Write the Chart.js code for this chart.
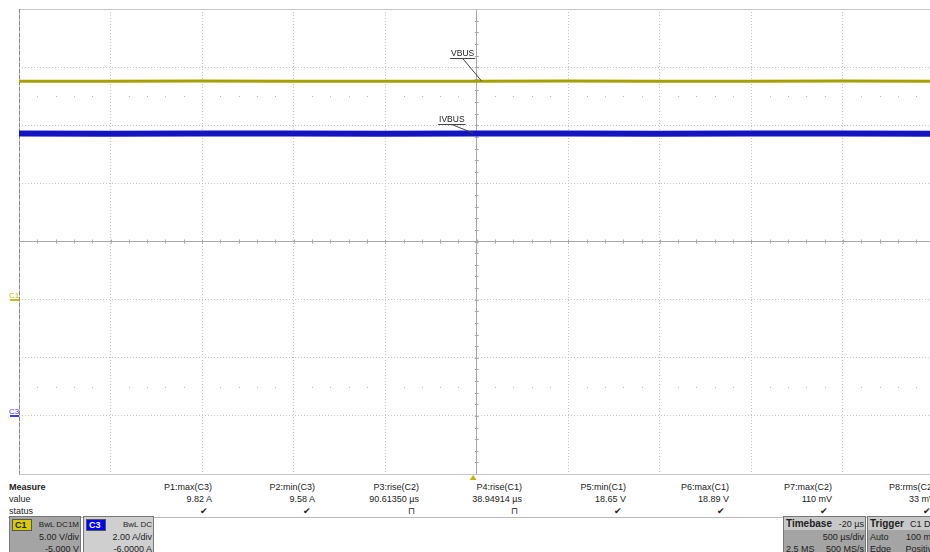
<!DOCTYPE html>
<html>
<head>
<meta charset="utf-8">
<script src="https://cdn.jsdelivr.net/npm/chart.js@4.4.1/dist/chart.umd.min.js"></script>
<style>
  html, body { margin: 0; padding: 0; background: #fff; width: 930px; height: 552px; overflow: hidden; }
  body { position: relative; font-family: "Liberation Sans", Arial, sans-serif; font-size: 9px; color: #222; }
  #scope { position: absolute; left: 0; top: 0; }
  .t { position: absolute; white-space: nowrap; line-height: 12px; }
  .r { text-align: right; }
  .box { position: absolute; border: 1px solid #777; box-sizing: border-box; overflow: hidden; }
  .tag { position: absolute; top: 2px; left: 2px; width: 16px; height: 10px; font-weight: bold; font-size: 9px; line-height: 10px; padding-left: 2px; border: 1px solid #555; }
</style>
</head>
<body>
<canvas id="scope" width="940" height="480"></canvas>
<div id="panel"></div>
<script>
// acquisition: C1 = VBUS (5 V/div, offset -5 V), C3 = IVBUS (2 A/div, offset -6 A)
// time base 500 us/div, delay -20 us
var timeUs = [-2480, -2000, -1500, -1000, -500, 0, 500, 1000, 1500, 2000, 2520];
var vbus   = [18.79, 18.78, 18.80, 18.79, 18.78, 18.79, 18.80, 18.78, 18.79, 18.80, 18.79];
var ivbus  = [9.72, 9.71, 9.72, 9.72, 9.71, 9.72, 9.72, 9.71, 9.72, 9.72, 9.71];

var xTicks = [-2480, -1980, -1480, -980, -480, 20, 520, 1020, 1520, 2020, 2520];

var measNames  = ['P1:max(C3)', 'P2:min(C3)', 'P3:rise(C2)', 'P4:rise(C1)', 'P5:min(C1)', 'P6:max(C1)', 'P7:max(C2)', 'P8:rms(C2)'];
var measValues = ['9.82 A', '9.58 A', '90.61350 \u00b5s', '38.94914 \u00b5s', '18.65 V', '18.89 V', '110 mV', '33 mV'];
var measStatus = ['\u2714', '\u2714', '\u2293', '\u2293', '\u2714', '\u2714', '\u2714', '\u2714'];

function pts(vals) {
  return vals.map(function (v, i) { return { x: timeUs[i], y: v }; });
}

// dotted grid, solid centre cross and frame
var gridColor = function (c) {
  var n = c.scale.ticks.length;
  if (c.index === (n - 1) / 2) return '#a8a8a8';
  return '#c4c4c4';
};
var gridDash = function (c) {
  var n = c.scale.ticks.length;
  if (c.index === 0 || c.index === n - 1 || c.index === (n - 1) / 2) return [];
  return [1, 2];
};

var scopeExtras = {
  id: 'scopeExtras',
  beforeDatasetsDraw: function (chart) {
    var ctx = chart.ctx, x = chart.scales.x, y = chart.scales.y, a = chart.chartArea;
    var cx = x.getPixelForValue(20), cy = y.getPixelForValue(5);
    var divX = (a.right - a.left) / 10, divY = (a.bottom - a.top) / 8;
    ctx.save();
    ctx.strokeStyle = '#a8a8a8';
    ctx.lineWidth = 1;
    // minor ticks on centre cross
    for (var i = 1; i < 50; i++) {
      var px = Math.round(a.left + i * divX / 5) + 0.5;
      ctx.beginPath(); ctx.moveTo(px, cy - 2); ctx.lineTo(px, cy + 2); ctx.stroke();
    }
    for (var j = 1; j < 40; j++) {
      var py = Math.round(a.top + j * divY / 5) + 0.5;
      ctx.beginPath(); ctx.moveTo(cx - 2, py); ctx.lineTo(cx + 2, py); ctx.stroke();
    }
    // dotted rows
    ctx.fillStyle = '#b8b8b8';
    [17.5, -7.5].forEach(function (v) {
      var ry = Math.round(y.getPixelForValue(v));
      for (var k = 1; k < 50; k++) {
        if (k % 5 === 0) continue;
        ctx.fillRect(Math.round(a.left + k * divX / 5), ry, 1, 1);
      }
    });
    // left frame edge
    ctx.strokeStyle = '#888';
    ctx.setLineDash([4, 2]);
    ctx.beginPath(); ctx.moveTo(a.left + 0.5, a.top); ctx.lineTo(a.left + 0.5, a.bottom); ctx.stroke();
    ctx.restore();
  },
  afterDraw: function (chart) {
    var ctx = chart.ctx, x = chart.scales.x, y = chart.scales.y, y3 = chart.scales.y3, a = chart.chartArea;
    ctx.save();
    ctx.font = '8.5px "Liberation Sans", Arial, sans-serif';
    ctx.textAlign = 'center';
    ctx.textBaseline = 'alphabetic';
    // trace labels with leader lines
    var labels = [
      { text: 'VBUS', px: x.getPixelForValue(47), py: y.getPixelForValue(vbus[5]), dx: -19, dy: -23 },
      { text: 'IVBUS', px: x.getPixelForValue(4), py: y3.getPixelForValue(ivbus[5]), dx: -22, dy: -9 }
    ];
    labels.forEach(function (l) {
      var tx = l.px + l.dx, ty = Math.round(l.py + l.dy);
      ctx.fillStyle = '#222';
      ctx.fillText(l.text, tx, ty - 2);
      var w = ctx.measureText(l.text).width;
      ctx.strokeStyle = '#444';
      ctx.lineWidth = 1;
      ctx.beginPath();
      ctx.moveTo(tx - w / 2 - 1, ty + 0.5); ctx.lineTo(tx + w / 2 + 1, ty + 0.5);
      ctx.moveTo(tx, ty + 0.5); ctx.lineTo(l.px, l.py);
      ctx.stroke();
    });
    // channel ground markers
    var marks = [
      { text: 'C1', py: y.getPixelForValue(0), color: '#c8bc1c' },
      { text: 'C3', py: y3.getPixelForValue(0), color: '#3c3cff' }
    ];
    ctx.font = '8px "Liberation Sans", Arial, sans-serif';
    ctx.textAlign = 'left';
    marks.forEach(function (m) {
      ctx.fillStyle = m.color;
      ctx.fillText(m.text, 9, m.py - 2);
      ctx.fillRect(10, Math.round(m.py) - 1, 9, 2);
    });
    // trigger position marker
    var tx0 = x.getPixelForValue(0);
    ctx.fillStyle = '#c8b400';
    ctx.beginPath();
    ctx.moveTo(tx0, a.bottom + 1); ctx.lineTo(tx0 - 3.5, a.bottom + 6); ctx.lineTo(tx0 + 3.5, a.bottom + 6);
    ctx.closePath(); ctx.fill();
    ctx.restore();
  }
};

var chart = new Chart(document.getElementById('scope').getContext('2d'), {
  type: 'line',
  data: {
    datasets: [{
      label: 'VBUS',
      data: pts(vbus),
      yAxisID: 'y',
      borderColor: '#a8a000',
      borderWidth: 3,
      pointRadius: 0,
      tension: 0
    }, {
      label: 'IVBUS',
      data: pts(ivbus),
      yAxisID: 'y3',
      borderColor: '#1414c0',
      borderWidth: 6,
      pointRadius: 0,
      tension: 0
    }]
  },
  options: {
    responsive: false,
    animation: false,
    layout: { padding: { left: 19, top: 9, right: 5.5, bottom: 6 } },
    plugins: { legend: { display: false }, tooltip: { enabled: false } },
    scales: {
      x: {
        type: 'linear',
        min: -2480,
        max: 2520,
        afterBuildTicks: function (scale) {
          scale.ticks = xTicks.map(function (v) { return { value: v }; });
        },
        ticks: { display: false },
        grid: { color: gridColor, drawTicks: false, lineWidth: 1 },
        border: { display: false, dash: gridDash }
      },
      y: {
        min: -15,
        max: 25,
        ticks: { display: false, stepSize: 5 },
        grid: { color: gridColor, drawTicks: false, lineWidth: 1 },
        border: { display: false, dash: gridDash }
      },
      y3: {
        display: false,
        min: -2,
        max: 14
      }
    }
  },
  plugins: [scopeExtras]
});

// measurement table and channel / timebase boxes
var panel = document.getElementById('panel');
function addText(html, left, top, opts) {
  var d = document.createElement('div');
  d.className = 't' + (opts && opts.right ? ' r' : '');
  d.innerHTML = html;
  if (opts && opts.right) { d.style.left = (left - 120) + 'px'; d.style.width = '120px'; }
  else d.style.left = left + 'px';
  d.style.top = top + 'px';
  if (opts && opts.bold) d.style.fontWeight = 'bold';
  if (opts && opts.size) d.style.fontSize = opts.size + 'px';
  (opts && opts.parent ? opts.parent : panel).appendChild(d);
  return d;
}
addText('Measure', 9, 481, { bold: true });
addText('value', 9, 493);
addText('status', 9, 505);
var colRight = [212, 315, 419, 522, 626, 729, 832, 935];
measNames.forEach(function (n, i) {
  addText(n, colRight[i], 481, { right: true });
  addText(measValues[i], colRight[i], 493, { right: true });
  addText(measStatus[i], colRight[i] - 4, 505, { right: true });
});
var sep = document.createElement('div');
sep.style.cssText = 'position:absolute;left:8px;top:517px;width:930px;height:1px;background:#bbb;';
panel.appendChild(sep);

function addBox(left, width, bg, tag, tagBg, lines) {
  var b = document.createElement('div');
  b.className = 'box';
  b.style.cssText += 'left:' + left + 'px;top:516px;width:' + width + 'px;height:40px;background:' + bg + ';';
  panel.appendChild(b);
  var t = document.createElement('div');
  t.className = 'tag';
  t.style.background = tagBg;
  t.style.color = tag === 'C3' ? '#fff' : '#222';
  t.textContent = tag;
  b.appendChild(t);
  lines.forEach(function (s, i) { addText(s, width - 3, 2 + i * 12, { right: true, parent: b, size: i === 0 ? 8 : 9 }); });
}
addBox(9, 72, '#a4a4a4', 'C1', '#d8cc00', ['BwL DC1M', '5.00 V/div', '-5.000 V']);
addBox(83, 71, '#cfcfcf', 'C3', '#0000ff', ['BwL DC', '2.00 A/div', '-6.0000 A']);

function addInfo(left, width, title, right0, rows) {
  var b = document.createElement('div');
  b.className = 'box';
  b.style.cssText += 'left:' + left + 'px;top:516px;width:' + width + 'px;height:40px;background:#a4a4a4;';
  panel.appendChild(b);
  var h = document.createElement('div');
  h.style.cssText = 'position:absolute;left:0;top:0;width:100%;height:13px;background:#c8c8c8;';
  b.appendChild(h);
  addText(title, 2, 1, { bold: true, parent: b, size: 10 });
  addText(right0, width - 3, 1, { right: true, parent: b });
  rows.forEach(function (r, i) {
    addText(r[0], 2, 14 + i * 12, { parent: b });
    addText(r[1], width - 3, 14 + i * 12, { right: true, parent: b });
  });
}
addInfo(783, 83, 'Timebase', '-20 \u00b5s', [['', '500 \u00b5s/div'], ['2.5 MS', '500 MS/s']]);
addInfo(867, 72, 'Trigger', 'C1 DC', [['Auto', '100 mV'], ['Edge', 'Positive']]);
</script>
</body>
</html>
